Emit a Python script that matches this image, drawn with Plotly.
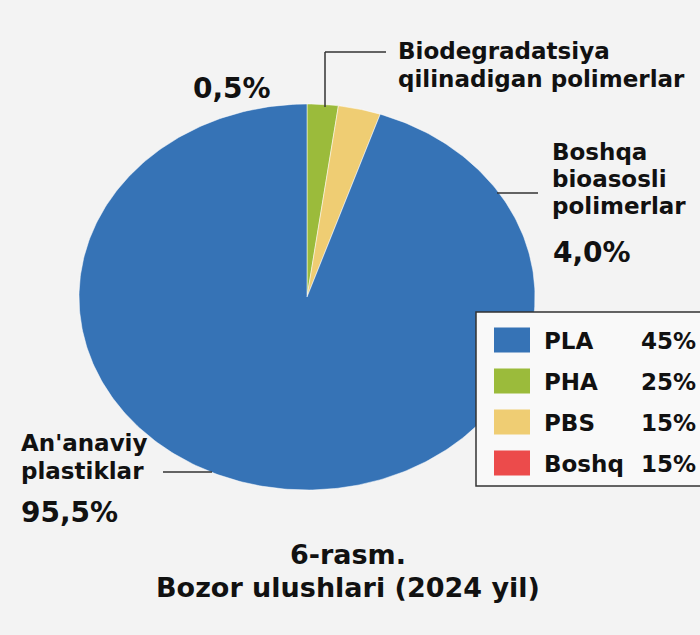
import numpy as np
import plotly.graph_objects as go

# ---- data ----
slice_names = ["Biodegradatsiya qilinadigan polimerlar", "Boshqa bioasosli polimerlar", "An'anaviy plastiklar"]
slice_values = [2.2, 3.0, 94.8]          # slice sizes as drawn in the picture
slice_labels = ["0,5%", "4,0%", "95,5%"]  # printed labels
slice_colors = ["#9bbb3b", "#efcd73", "#3673b6"]

legend_names = ["PLA", "PHA", "PBS", "Boshq"]
legend_values = ["45%", "25%", "15%", "15%"]
legend_colors = ["#3673b6", "#9bbb3b", "#efcd73", "#ec4b4b"]

title_lines = ["6-rasm.", "Bozor ulushlari (2024 yil)"]

W, H = 700, 635
FONT = "DejaVu Sans"
BG = "#f3f3f3"


def px(x):
    return x / W


def py(y):
    return 1 - y / H


fig = go.Figure()

total = sum(slice_values)
cum = np.cumsum([0] + slice_values) / total
for name, c0, c1, col in zip(slice_names, cum[:-1], cum[1:], slice_colors):
    n = max(int((c1 - c0) * 400), 8)
    th = np.linspace(c0, c1, n) * 2 * np.pi
    xs = np.concatenate([[0], np.sin(th), [0]])
    ys = np.concatenate([[0], np.cos(th), [0]])
    fig.add_trace(go.Scatter(x=xs, y=ys, fill="toself", fillcolor=col, mode="lines",
                             line=dict(color="rgba(255,255,255,0.5)", width=1),
                             name=name, hoverinfo="name"))

# pie ellipse: centre (307, 297) px, radii 228 x 193 px
cx, cy, rx, ry = 307, 297, 228, 193
fig.update_xaxes(range=[-cx / rx, (W - cx) / rx], visible=False, fixedrange=True)
fig.update_yaxes(range=[-(H - cy) / ry, cy / ry], visible=False, fixedrange=True)

shapes = []
ann = []


def text(x, baseline, s, size, anchor="left"):
    y = baseline - 0.33 * size
    ann.append(dict(x=px(x), y=py(y), xref="paper", yref="paper", text=s, showarrow=False,
                    xanchor=anchor, yanchor="middle",
                    font=dict(family=FONT, size=size, color="#111111", weight="bold")))


def line(x0, y0, x1, y1):
    shapes.append(dict(type="line", xref="paper", yref="paper", x0=px(x0), y0=py(y0), x1=px(x1), y1=py(y1),
                       line=dict(color="#333333", width=1.5)))


LS = 23   # label size
PS = 28   # percentage size

# top label
line(325, 107, 325, 52)
line(325, 52, 386, 52)
text(396, 59, "Biodegradatsiya", LS)
text(396, 87, "qilinadigan polimerlar", LS)
text(232, 98, slice_labels[0], PS, anchor="center")

# right label
line(497, 193, 538, 193)
text(550, 160, "Boshqa", LS)
text(550, 187, "bioasosli", LS)
text(550, 214, "polimerlar", LS)
text(551, 262, slice_labels[1], PS)

# left label
line(163, 472, 212, 472)
text(19, 451, "An'anaviy", LS)
text(19, 479, "plastiklar", LS)
text(19, 522, slice_labels[2], PS)

# legend box
shapes.append(dict(type="rect", xref="paper", yref="paper", x0=px(476), y0=py(486), x1=px(708), y1=py(312),
                   line=dict(color="#333333", width=1.5), fillcolor="#f9f9f9"))
for i, (nm, val, col) in enumerate(zip(legend_names, legend_values, legend_colors)):
    yc = 340 + i * 41
    shapes.append(dict(type="rect", xref="paper", yref="paper", x0=px(494), y0=py(yc + 12.5),
                       x1=px(530), y1=py(yc - 12.5), line=dict(width=0), fillcolor=col))
    text(542, yc + 9, nm, 23)
    text(698, yc + 9, val, 23, anchor="right")

# title
text(348, 563, title_lines[0], 27, anchor="center")
text(348, 596, title_lines[1], 27, anchor="center")

fig.update_layout(width=W, height=H, margin=dict(l=0, r=0, t=0, b=0),
                  paper_bgcolor=BG, plot_bgcolor=BG, showlegend=False,
                  shapes=shapes, annotations=ann)

fig.write_html("out.html", config={"displayModeBar": False},
               post_script="document.body.style.margin='0px';")
